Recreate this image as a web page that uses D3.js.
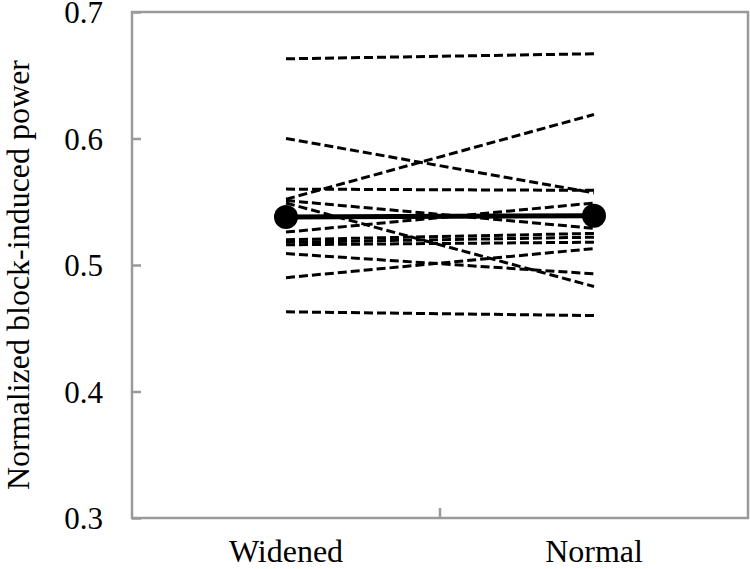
<!DOCTYPE html>
<html>
<head>
<meta charset="utf-8">
<script src="https://cdn.jsdelivr.net/npm/d3@7"></script>
<style>
  html, body { margin: 0; padding: 0; background: #fff; }
  svg { display: block; }
</style>
</head>
<body>
<svg id="chart" width="750" height="569"></svg>
<script>
const categories = ["Widened", "Normal"];
// individual subjects (paired values)
const widenedValues = [0.663, 0.600, 0.560, 0.552, 0.551, 0.549, 0.526, 0.520, 0.518, 0.516, 0.509, 0.490, 0.463];
const normalValues  = [0.667, 0.557, 0.559, 0.619, 0.529, 0.483, 0.549, 0.525, 0.522, 0.518, 0.493, 0.513, 0.460];
const meanValues = [0.538, 0.539];
const yTicks = [0.3, 0.4, 0.5, 0.6, 0.7];
const yLabel = "Normalized block-induced power";

const FONT = "'Liberation Serif', 'Times New Roman', 'DejaVu Serif', serif";
const svg = d3.select("#chart");
const plotLeft = 132, plotRight = 748, plotTop = 12, plotBottom = 518;

const x = d3.scalePoint().domain(categories).range([plotLeft, plotRight]).padding(0.5);
const y = d3.scaleLinear().domain([0.3, 0.7]).range([plotBottom, plotTop]);

// frame
svg.append("rect")
  .attr("x", plotLeft).attr("y", plotTop)
  .attr("width", plotRight - plotLeft).attr("height", plotBottom - plotTop)
  .attr("fill", "none").attr("stroke", "#9a9a9a").attr("stroke-width", 2.5);

// y axis (ticks inward)
const yAxis = d3.axisRight(y).tickValues(yTicks).tickSize(9).tickFormat("");
const gy = svg.append("g").attr("transform", `translate(${plotLeft},0)`).call(yAxis);
gy.select(".domain").remove();
gy.selectAll(".tick line").attr("stroke", "#9a9a9a").attr("stroke-width", 2.5);

// y tick labels
svg.append("g").selectAll("text").data(yTicks).join("text")
  .attr("x", 103).attr("y", d => y(d))
  .attr("dy", "0.36em")
  .attr("text-anchor", "end")
  .style("font-family", FONT)
  .style("font-size", "31px")
  .attr("fill", "#000")
  .text(d => d3.format(".1f")(d));

// bottom center tick
svg.append("line")
  .attr("x1", (plotLeft + plotRight) / 2).attr("x2", (plotLeft + plotRight) / 2)
  .attr("y1", plotBottom).attr("y2", plotBottom - 10)
  .attr("stroke", "#9a9a9a").attr("stroke-width", 2.5);

// category labels
svg.append("g").selectAll("text").data(categories).join("text")
  .attr("x", d => x(d)).attr("y", 562)
  .attr("text-anchor", "middle")
  .style("font-family", FONT)
  .style("font-size", "32px")
  .attr("fill", "#000")
  .text(d => d);

// y axis title
svg.append("text")
  .attr("transform", `translate(29,${(plotTop + plotBottom) / 2 + 10}) rotate(-90)`)
  .attr("text-anchor", "middle")
  .style("font-family", FONT)
  .style("font-size", "32px")
  .attr("fill", "#000")
  .text(yLabel);

// individual dashed lines
const pairs = widenedValues.map((v, i) => [v, normalValues[i]]);
const line = d3.line().x((d, i) => x(categories[i])).y(d => y(d));
svg.append("g").selectAll("path").data(pairs).join("path")
  .attr("d", d => line(d))
  .attr("fill", "none")
  .attr("stroke", "#000")
  .attr("stroke-width", 3)
  .attr("stroke-dasharray", "9,4");

// mean line
svg.append("path")
  .attr("d", line(meanValues))
  .attr("fill", "none").attr("stroke", "#000").attr("stroke-width", 5);
svg.append("g").selectAll("circle").data(meanValues).join("circle")
  .attr("cx", (d, i) => x(categories[i]))
  .attr("cy", d => y(d))
  .attr("r", 12)
  .attr("fill", "#000");
</script>
</body>
</html>
